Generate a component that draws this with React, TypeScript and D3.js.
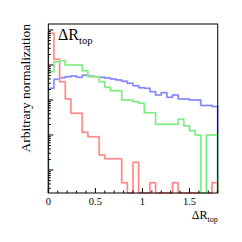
import React from "react";
import * as d3 from "d3";

// 30 bins of width 0.06 from 0 to 1.8
const binEdges = d3.range(31).map((i) => +(i * 0.06).toFixed(2));

const redValues = [8050, 1455, 333, 107, 41.7, 41.7, 11.9, 8.9, 8.9, 2.68, 2.1, 2.1, 2.1, 0.434, 0, 1.66, 0, 0, 0.434, 0, 0, 0, 0.434, 0, 0, 0, 0, 0, 0, 0.434];
const greenValues = [644, 1243, 1327, 1000, 1000, 1000, 687, 463, 463, 333, 231, 184, 184, 100, 100, 89.4, 80.5, 43.4, 43.4, 20.2, 20.2, 20.2, 20.2, 28.1, 18.1, 13.3, 10, 0, 10, 10];
const blueValues = [216, 390, 434, 463, 485, 445, 508, 485, 463, 445, 425, 398, 373, 342, 300, 256, 225, 216, 173, 139, 162, 119, 139, 107, 107, 100, 100, 69.7, 69.7, 65.2];

const xTicks = [0, 0.5, 1, 1.5];
const xTickLabels = ["0", "0.5", "1", "1.5"];
const yDomain = [0.22, 14840];

export default function App() {
  const W = 242, H = 242;
  const L = 48.33, R = 217.7, T = 24, B = 193;
  const x = d3.scaleLinear().domain([0, 1.8]).range([L, R]);
  const y = d3.scaleLog().domain(yDomain).range([B, T]);

  const stepPath = (vals: number[]) => {
    const yy = (v: number) => (v > 0 ? Math.max(T, Math.min(B, y(v))) : B);
    let d = `M${x(binEdges[0])},${B}`;
    vals.forEach((v, i) => {
      d += `L${x(binEdges[i])},${yy(v)}L${x(binEdges[i + 1])},${yy(v)}`;
    });
    d += `L${x(binEdges[binEdges.length - 1])},${B}`;
    return d;
  };

  const minorX = d3.range(0, 1.8001, 0.1).map((v) => +v.toFixed(2));
  const majorY: number[] = [];
  const minorY: number[] = [];
  for (let e = -1; e <= 4; e++) {
    for (let m = 1; m <= 9; m++) {
      const v = m * Math.pow(10, e);
      if (v < yDomain[0] || v > yDomain[1]) continue;
      if (m === 1) majorY.push(v);
      else minorY.push(v);
    }
  }

  const series = [
    { vals: blueValues, core: "#6b6bff", halo: "#b8b8ff" },
    { vals: redValues, core: "#ff6b6b", halo: "#ffbdbd" },
    { vals: greenValues, core: "#5ce65c", halo: "#b8f5b8" },
  ];

  const font = "'Liberation Serif', 'Times New Roman', serif";

  return (
    <svg width={W} height={H} style={{ position: "absolute", left: 0, top: 0 }}>
      <rect x={0} y={0} width={W} height={H} fill="white" />
      {series.map((s, i) => (
        <g key={i} fill="none">
          <path d={stepPath(s.vals)} stroke={s.halo} strokeWidth={2} />
          <path d={stepPath(s.vals)} stroke={s.core} strokeWidth={0.8} />
        </g>
      ))}
      <rect x={L} y={T} width={R - L} height={B - T} fill="none" stroke="black" strokeWidth={1} />
      {minorX.map((v, i) => {
        const major = xTicks.some((t) => Math.abs(t - v) < 1e-6);
        return (
          <line key={"xt" + i} x1={x(v)} x2={x(v)} y1={B} y2={B - (major ? 5 : 2.5)} stroke="black" strokeWidth={1} />
        );
      })}
      {majorY.map((v, i) => (
        <line key={"ym" + i} x1={L} x2={L + 5} y1={y(v)} y2={y(v)} stroke="black" strokeWidth={1} />
      ))}
      {minorY.map((v, i) => (
        <line key={"yn" + i} x1={L} x2={L + 2.5} y1={y(v)} y2={y(v)} stroke="black" strokeWidth={1} />
      ))}
      {xTicks.map((v, i) => (
        <text key={"xl" + i} x={x(v)} y={205} textAnchor="middle" fontFamily={font} fontSize={10.5}>
          {xTickLabels[i]}
        </text>
      ))}
      <text x={R} y={219} textAnchor="end" fontFamily={font} fontSize={12}>
        ΔR<tspan fontSize={8} dy={2.5}>top</tspan>
      </text>
      <text x={58} y={40} fontFamily={font} fontSize={16}>
        ΔR<tspan fontSize={10.5} dy={4}>top</tspan>
      </text>
      <text transform={`translate(29.5,${T}) rotate(-90)`} textAnchor="end" fontFamily={font} fontSize={13.5}>
        Arbitrary normalization
      </text>
    </svg>
  );
}
